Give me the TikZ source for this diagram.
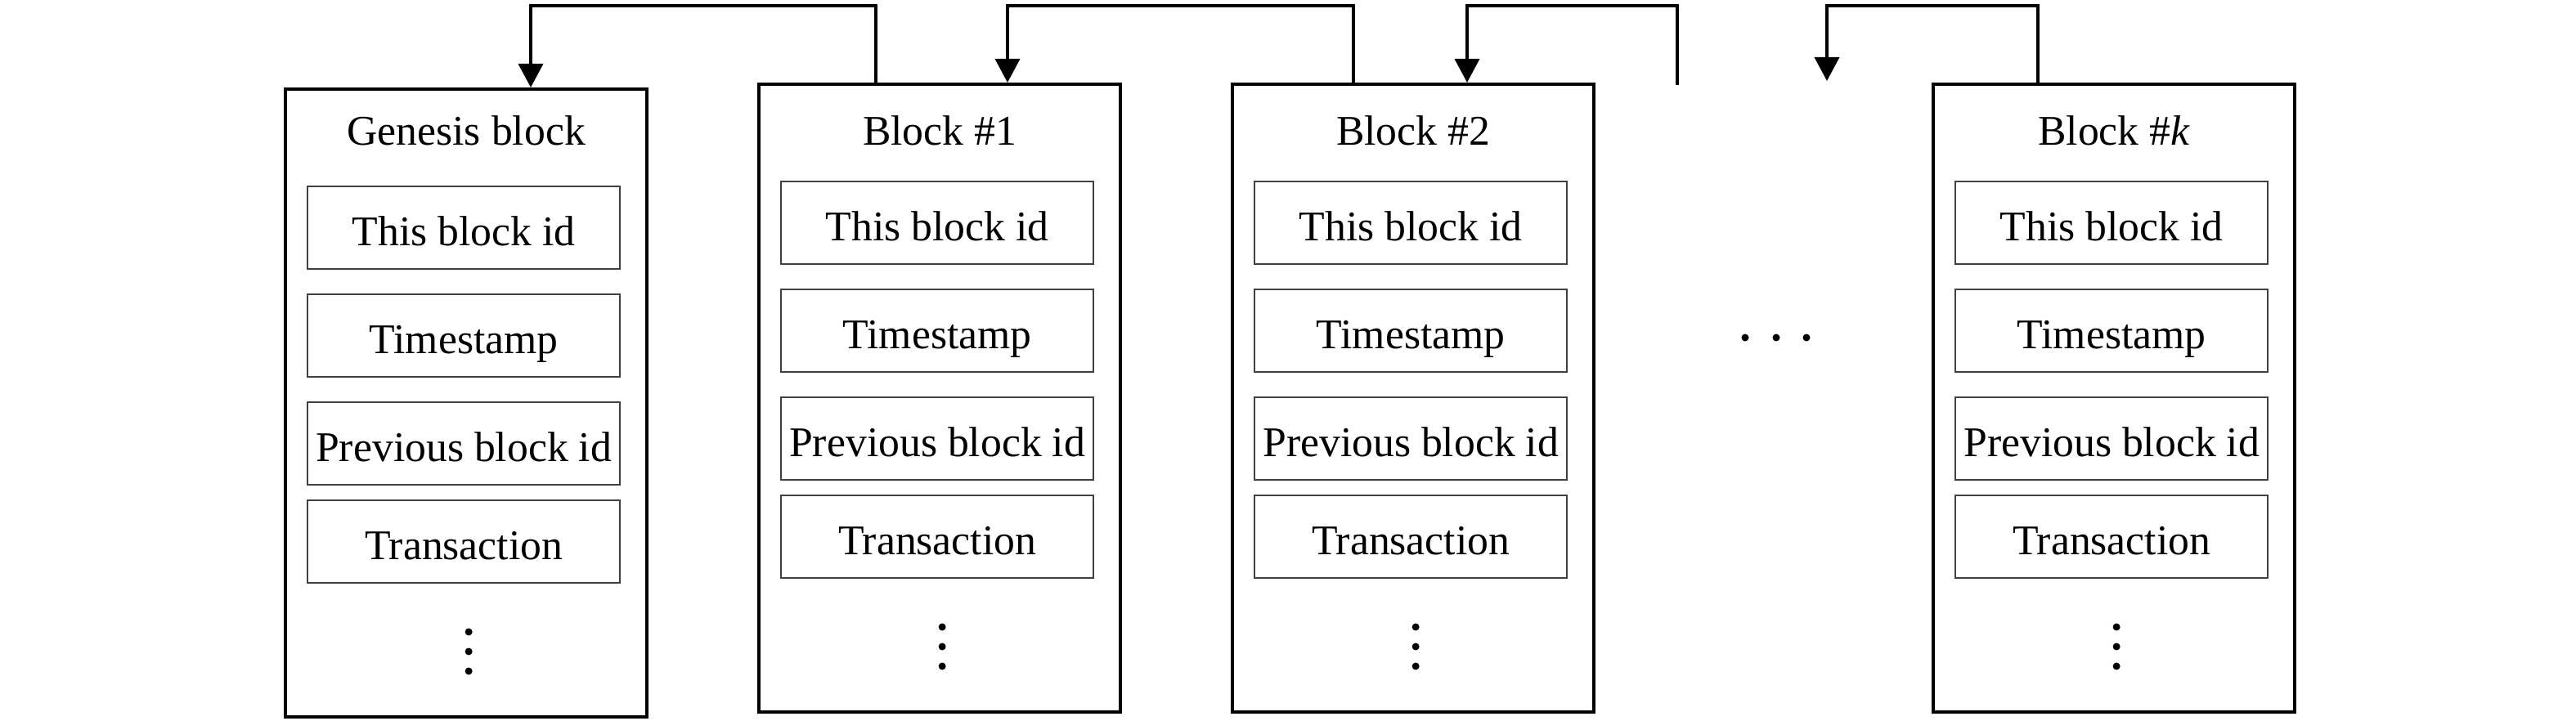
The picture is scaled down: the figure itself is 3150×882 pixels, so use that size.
\documentclass[tikz,border=0pt]{standalone}
\usepackage{fontspec}
\setmainfont{Liberation Serif}
\usetikzlibrary{calc,arrows.meta}
\begin{document}
\begin{tikzpicture}[x=0.01cm,y=-0.01cm,
  outerbox/.style={draw=black, line width=1.15pt, rectangle, minimum width=4.42cm, minimum height=7.68cm, inner sep=0pt},
  field/.style={draw=black!75, line width=0.6pt, rectangle, minimum width=3.82cm, minimum height=1.01cm, inner sep=0pt, text height=0.44cm, text depth=0pt, font=\fontsize{14.7}{17}\selectfont},
  titletext/.style={inner sep=0pt, font=\fontsize{14.7}{17}\selectfont},
  dotnode/.style={circle, fill=black, inner sep=0pt, minimum size=0.09cm},
  conn/.style={draw=black, line width=1.05pt},
  arr/.style={-{Triangle[width=0.3cm,length=0.29cm]}}]
\useasboundingbox (0,0) rectangle (3150,882);
\newcommand{\drawchainblock}[4]{%
  \node[outerbox, anchor=north west] (#1) at (#2,#3) {};
  \node[titletext, anchor=base] (#1-t) at (#1.north |- 0,178) {#4};
  \node[field, anchor=north west] (#1-a) at ($(#1.north west)+(28,120)$) {This block id};
  \node[field, anchor=north west] (#1-b) at ($(#1.north west)+(28,252)$) {Timestamp};
  \node[field, anchor=north west] (#1-c) at ($(#1.north west)+(28,384)$) {Previous block id};
  \node[field, anchor=north west] (#1-d) at ($(#1.north west)+(28,504)$) {Transaction};
  \node[dotnode] (#1-v1) at ($(#1.north)+(3,666)$) {};
  \node[dotnode] (#1-v2) at ($(#1.north)+(3,690)$) {};
  \node[dotnode] (#1-v3) at ($(#1.north)+(3,714)$) {};
}
\drawchainblock{g}{347}{107}{Genesis block}
\drawchainblock{b1}{926}{101}{Block \#1}
\drawchainblock{b2}{1505}{101}{Block \#2}
\drawchainblock{bk}{2362}{101}{Block \#\textit{k}}
% horizontal dots
\node[dotnode] (h1) at (2134,413) {};
\node[dotnode] (h2) at (2172,413) {};
\node[dotnode] (h3) at (2209,413) {};
% connector coordinates
\coordinate (top) at (0,7);
\coordinate (g-in) at ($(g.north west)+(302,0)$);
\coordinate (b1-out) at ($(b1.north west)+(145,0)$);
\coordinate (b1-in) at ($(b1.north west)+(306,0)$);
\coordinate (b2-out) at ($(b2.north west)+(150,0)$);
\coordinate (b2-in) at ($(b2.north west)+(289,0)$);
\coordinate (gap-out) at (2051,104);
\coordinate (gap-in) at (2234,99);
\coordinate (bk-out) at ($(bk.north west)+(130,0)$);
\draw[conn,arr] (b1-out) -- (b1-out |- top) -| (g-in);
\draw[conn,arr] (b2-out) -- (b2-out |- top) -| (b1-in);
\draw[conn,arr] (gap-out) -- (gap-out |- top) -| (b2-in);
\draw[conn,arr] (bk-out) -- (bk-out |- top) -| (gap-in);
\end{tikzpicture}
\end{document}
